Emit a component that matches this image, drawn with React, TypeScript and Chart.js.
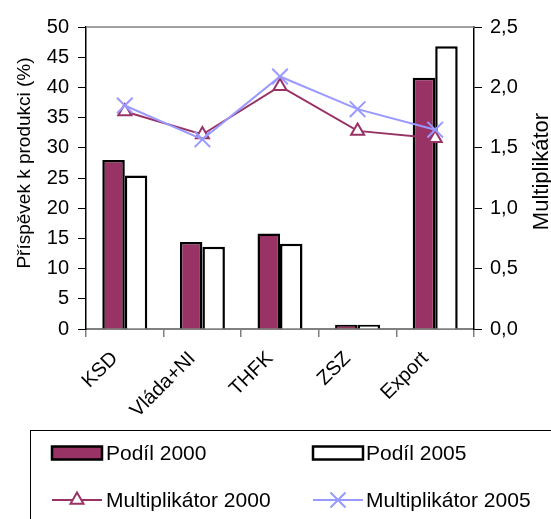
import React, { useEffect, useRef } from "react";
import { Chart, registerables } from "chart.js";

Chart.register(...registerables);

const categories = ["KSD", "Vláda+NI", "THFK", "ZSZ", "Export"];
const podil2000 = [28.0, 14.4, 15.8, 0.7, 41.6];
const podil2005 = [25.4, 13.6, 14.1, 0.7, 46.8];
const mult2000 = [1.8, 1.61, 2.01, 1.64, 1.58];
const mult2005 = [1.85, 1.57, 2.09, 1.82, 1.65];
const seriesNames = ["Podíl 2000", "Podíl 2005", "Multiplikátor 2000", "Multiplikátor 2005"];
const leftTitle = "Příspěvek k produkci (%)";
const rightTitle = "Multiplikátor";

const MAROON = "#993366";
const LAVENDER = "#9999FF";
const FONT = "'Liberation Sans', Arial, sans-serif";
const FS = 20;

function drawTriangle(ctx: CanvasRenderingContext2D, x: number, y: number, r: number) {
  ctx.beginPath();
  for (let i = 0; i < 3; i++) {
    const a = (i * 2 * Math.PI) / 3;
    const px = x + Math.sin(a) * r;
    const py = y - Math.cos(a) * r;
    if (i === 0) ctx.moveTo(px, py);
    else ctx.lineTo(px, py);
  }
  ctx.closePath();
}

const extrasPlugin = {
  id: "extras",
  afterDraw(chart: any) {
    const ctx: CanvasRenderingContext2D = chart.ctx;
    const area = chart.chartArea;
    ctx.save();
    // top border
    ctx.strokeStyle = "#808080";
    ctx.lineWidth = 1.5;
    ctx.beginPath();
    ctx.moveTo(area.left, area.top);
    ctx.lineTo(area.right, area.top);
    ctx.stroke();

    // axis titles rotated bottom-to-top
    ctx.fillStyle = "#000";
    ctx.textAlign = "center";
    ctx.textBaseline = "middle";
    ctx.font = `19px ${FONT}`;
    ctx.save();
    ctx.translate(25, 163);
    ctx.rotate(-Math.PI / 2);
    ctx.fillText(leftTitle, 0, 0);
    ctx.restore();

    ctx.font = `22px ${FONT}`;
    ctx.save();
    ctx.translate(541.5, 171.5);
    ctx.rotate(-Math.PI / 2);
    ctx.fillText(rightTitle, 0, 0);
    ctx.restore();

    // legend box
    ctx.strokeStyle = "#000";
    ctx.lineWidth = 1;
    ctx.strokeRect(30.5, 430.5, 600, 200);

    const col = [52, 313];
    const rows = [453, 500];
    ctx.textAlign = "left";
    ctx.textBaseline = "middle";
    ctx.font = `21px ${FONT}`;

    // Podíl 2000
    ctx.fillStyle = MAROON;
    ctx.fillRect(col[0], rows[0] - 6.5, 50, 13);
    ctx.lineWidth = 2.5;
    ctx.strokeStyle = "#000";
    ctx.strokeRect(col[0], rows[0] - 6.5, 50, 13);
    // Podíl 2005
    ctx.fillStyle = "#fff";
    ctx.fillRect(col[1], rows[0] - 6.5, 50, 13);
    ctx.strokeRect(col[1], rows[0] - 6.5, 50, 13);

    // Multiplikátor 2000
    ctx.strokeStyle = MAROON;
    ctx.lineWidth = 2;
    ctx.beginPath();
    ctx.moveTo(col[0], rows[1]);
    ctx.lineTo(col[0] + 50, rows[1]);
    ctx.stroke();
    drawTriangle(ctx, col[0] + 25, rows[1], 7.5);
    ctx.fillStyle = "#fff";
    ctx.fill();
    ctx.stroke();

    // Multiplikátor 2005
    ctx.strokeStyle = LAVENDER;
    ctx.beginPath();
    ctx.moveTo(col[1], rows[1]);
    ctx.lineTo(col[1] + 50, rows[1]);
    const cx = col[1] + 25;
    const d = 7.5;
    ctx.moveTo(cx - d, rows[1] - d);
    ctx.lineTo(cx + d, rows[1] + d);
    ctx.moveTo(cx + d, rows[1] - d);
    ctx.lineTo(cx - d, rows[1] + d);
    ctx.stroke();

    ctx.fillStyle = "#000";
    ctx.fillText(seriesNames[0], col[0] + 54, rows[0] + 1);
    ctx.fillText(seriesNames[1], col[1] + 53, rows[0] + 1);
    ctx.fillText(seriesNames[2], col[0] + 54, rows[1] + 1);
    ctx.fillText(seriesNames[3], col[1] + 53, rows[1] + 1);
    ctx.restore();
  },
};

export default function App() {
  const ref = useRef<HTMLCanvasElement>(null);
  useEffect(() => {
    document.body.style.margin = "0";
    const canvas = ref.current;
    if (!canvas) return;
    const chart = new Chart(canvas, {
      type: "bar",
      data: {
        labels: categories,
        datasets: [
          {
            type: "line",
            label: seriesNames[3],
            data: mult2005,
            yAxisID: "y2",
            borderColor: LAVENDER,
            backgroundColor: LAVENDER,
            borderWidth: 2,
            pointStyle: "crossRot",
            pointRadius: 11,
            pointBorderWidth: 2,
            pointBorderColor: LAVENDER,
            order: 0,
          },
          {
            type: "line",
            label: seriesNames[2],
            data: mult2000,
            yAxisID: "y2",
            borderColor: MAROON,
            backgroundColor: "#fff",
            borderWidth: 2,
            pointStyle: "triangle",
            pointRadius: 7.5,
            pointBorderWidth: 2,
            pointBorderColor: MAROON,
            pointBackgroundColor: "#fff",
            order: 1,
          },
          {
            type: "bar",
            label: seriesNames[0],
            data: podil2000,
            yAxisID: "y",
            backgroundColor: MAROON,
            borderColor: "#000",
            borderWidth: 2.5,
            categoryPercentage: 0.58,
            barPercentage: 1,
            order: 2,
          },
          {
            type: "bar",
            label: seriesNames[1],
            data: podil2005,
            yAxisID: "y",
            backgroundColor: "#fff",
            borderColor: "#000",
            borderWidth: 2.5,
            categoryPercentage: 0.58,
            barPercentage: 1,
            order: 3,
          },
        ],
      },
      options: {
        responsive: false,
        animation: false,
        layout: { padding: { top: 27, bottom: 89, left: 0, right: 0 } },
        plugins: { legend: { display: false }, tooltip: { enabled: false } },
        scales: {
          x: {
            offset: true,
            afterFit: (s: any) => {
              s.height = 101;
            },
            grid: {
              offset: true,
              drawOnChartArea: false,
              drawTicks: true,
              tickLength: 8,
              color: "#808080",
              lineWidth: 1.5,
            },
            border: { color: "#808080", width: 2 },
            ticks: {
              autoSkip: false,
              maxRotation: 45,
              minRotation: 45,
              color: "#000",
              padding: 10,
              labelOffset: -10,
              font: { family: FONT, size: FS },
            },
          },
          y: {
            position: "left",
            min: 0,
            max: 50,
            afterFit: (s: any) => {
              s.width = 86;
            },
            grid: { drawOnChartArea: false, tickLength: 8, color: "#000", lineWidth: 1 },
            border: { color: "#000", width: 1.5 },
            ticks: {
              stepSize: 5,
              padding: 9,
              color: "#000",
              font: { family: FONT, size: FS },
            },
          },
          y2: {
            position: "right",
            min: 0,
            max: 2.5,
            afterFit: (s: any) => {
              s.width = 77;
            },
            grid: { drawOnChartArea: false, tickLength: 8, color: "#000", lineWidth: 1 },
            border: { color: "#000", width: 1.5 },
            ticks: {
              stepSize: 0.5,
              padding: 8,
              color: "#000",
              font: { family: FONT, size: FS },
              callback: (v: any) => Number(v).toFixed(1).replace(".", ","),
            },
          },
        },
      },
      plugins: [extrasPlugin],
    });
    return () => chart.destroy();
  }, []);
  return (
    <div style={{ width: 551, height: 519 }}>
      <canvas ref={ref} width={551} height={519} />
    </div>
  );
}
